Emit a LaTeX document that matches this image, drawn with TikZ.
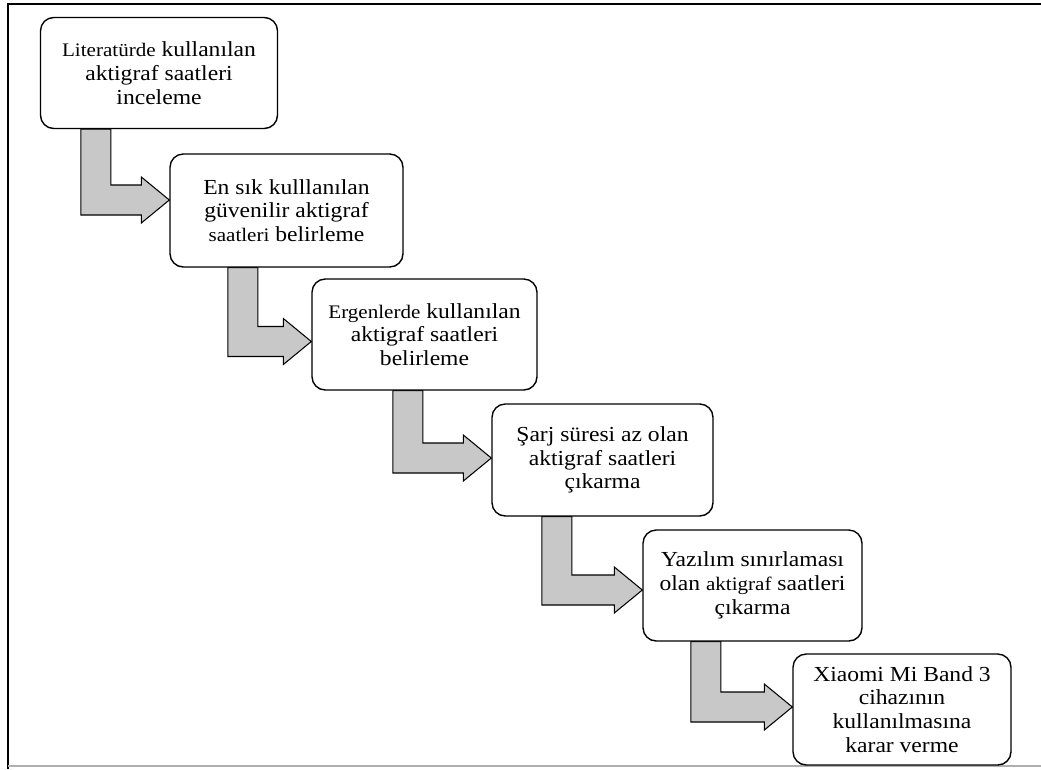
\documentclass[tikz,border=0pt]{standalone}
\usepackage{fontspec}
\setmainfont{Liberation Serif}[FakeStretch=1.1]
\usetikzlibrary{calc, positioning, backgrounds}
\definecolor{ArrowGray}{RGB}{200,200,200}
\definecolor{FrameGray}{RGB}{175,175,175}
\tikzset{
  stage/.style={
    rectangle, rounded corners=7.5pt,
    draw=black, fill=white, line width=0.8pt,
    align=center, inner sep=2pt,
    font=\fontsize{12.2}{13.5}\selectfont
  },
  bentarr/.style={draw=black, fill=ArrowGray, line width=0.6pt, line join=miter},
  frameline/.style={draw=black, line width=1pt}
}
% smaller words, as in the original
\newcommand{\sm}[1]{{\fontsize{10.9}{13.5}\selectfont #1}}
% bent block arrow: source, target, shaft offset from source's left side, tip shift
\newcommand{\bentarrow}[4]{%
  \filldraw[bentarr] let \p1=($(#1.south west)+(#3,0)$), \p2=($(#2.west)+(0,#4)$) in
    (\x1-0.3cm,\y1) -- (\x1-0.3cm,\y2-0.3cm) -- (\x2-0.56cm,\y2-0.3cm)
    -- (\x2-0.56cm,\y2-0.46cm) -- (\x2,\y2) -- (\x2-0.56cm,\y2+0.46cm)
    -- (\x2-0.56cm,\y2+0.3cm) -- (\x1+0.3cm,\y2+0.3cm) -- (\x1+0.3cm,\y1) -- cycle;}

\begin{document}
\begin{tikzpicture}[x=0.02cm, y=-0.02cm]
  \useasboundingbox (0,0) rectangle (1041,769);

  % Frame
  \draw[frameline, line width=1.2pt] (8,769) -- (8,4) -- (1041,4);
  \draw[FrameGray, line width=0.8pt] (8,766) -- (1041,766);

  % Steps
  \node[stage, minimum width=4.74cm, minimum height=2.22cm] (lit)  at (159,73)
    {\sm{Literatürde} kullanılan\\aktigraf saatleri\\inceleme};
  \node[stage, minimum width=4.66cm, minimum height=2.26cm] (guv)  at (286.5,210.5)
    {En sık kulllanılan\\güvenilir aktigraf\\\sm{saatleri} belirleme};
  \node[stage, minimum width=4.5cm, minimum height=2.22cm]  (erg)  at (424.5,334.5)
    {\sm{Ergenlerde} kullanılan\\aktigraf saatleri\\belirleme};
  \node[stage, minimum width=4.42cm, minimum height=2.24cm] (sarj) at (602.5,460)
    {Şarj süresi az olan\\aktigraf saatleri\\çıkarma};
  \node[stage, minimum width=4.38cm, minimum height=2.22cm] (yaz)  at (752.5,585.5)
    {Yazılım sınırlaması\\olan \sm{aktigraf} saatleri\\çıkarma};
  \node[stage, minimum width=4.36cm, minimum height=2.22cm] (mib)  at (902,709.5)
    {Xiaomi Mi Band 3\\cihazının\\kullanılmasına\\karar verme};

  % Bent arrows
  \begin{scope}[on background layer]
    \bentarrow{lit}{guv}{56}{-10.5}
    \bentarrow{guv}{erg}{73.5}{7}
    \bentarrow{erg}{sarj}{96.5}{-2}
    \bentarrow{sarj}{yaz}{65.5}{4.5}
    \bentarrow{yaz}{mib}{63.5}{-2.5}
  \end{scope}
\end{tikzpicture}
\end{document}
